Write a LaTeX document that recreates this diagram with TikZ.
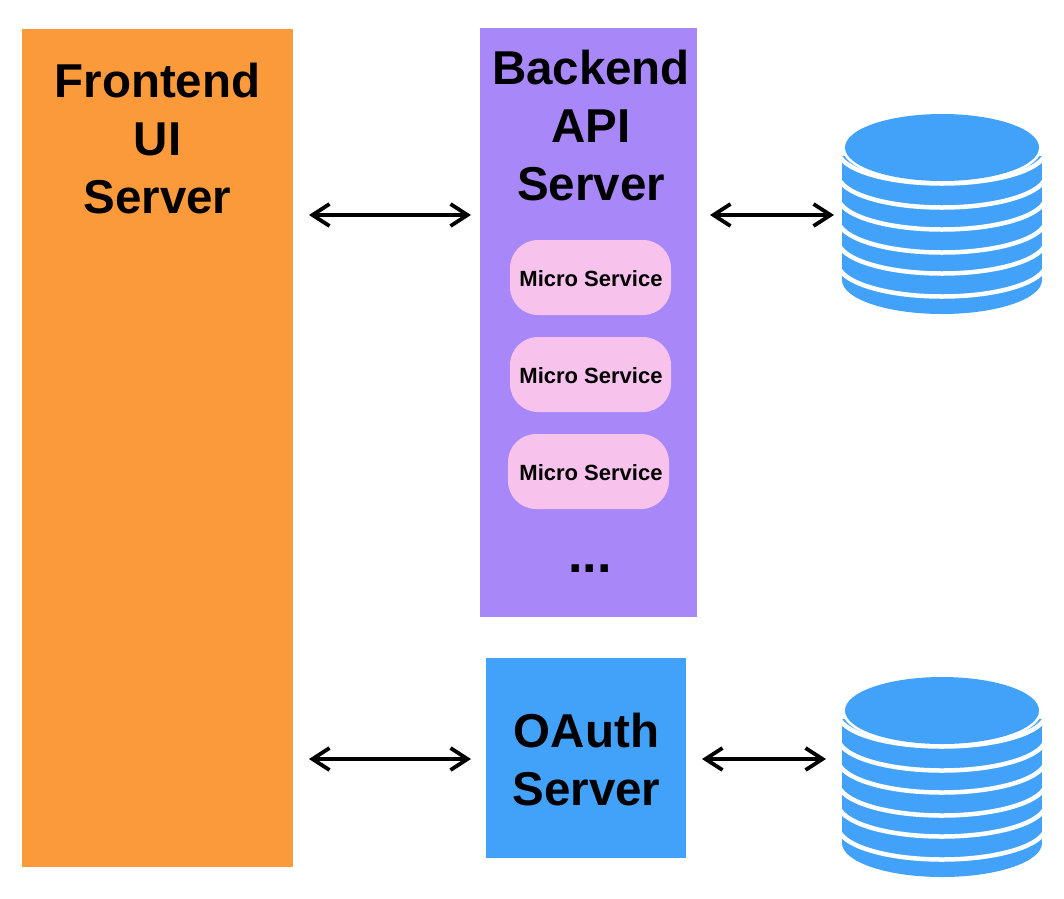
\documentclass[tikz,border=0pt]{standalone}
\usepackage{fontspec}
\setmainfont{Liberation Sans}
\usetikzlibrary{arrows.meta}
\definecolor{orangebox}{HTML}{FB9A3B}
\definecolor{purplebox}{HTML}{A887F9}
\definecolor{bluebox}{HTML}{42A2F9}
\definecolor{pinkbox}{HTML}{F7C2EC}
\tikzset{
  x=1pt,y=-1pt,
  box/.style={inner sep=0pt,outer sep=0pt,anchor=north west},
  bigtext/.style={inner sep=0pt,align=center,font=\fontsize{47.5}{58}\selectfont\bfseries,text=black},
  microbox/.style={box,fill=pinkbox,rounded corners=28pt,minimum width=161pt,minimum height=75pt},
  microtext/.style={inner sep=0pt,font=\fontsize{22}{26}\selectfont\bfseries,text=black},
  dblarrow/.style={line width=3.8pt,{Straight Barb[length=17pt,width=22pt,line width=3.8pt]}-{Straight Barb[length=17pt,width=22pt,line width=3.8pt]}}
}
\newcommand{\dbcyl}[2]{%
  \begin{scope}
    \clip (#1-100,#2+9) rectangle (#1+100,#2+175);
    \fill[bluebox] (#1-100,#2) rectangle (#1+100,#2+132.5);
    \fill[bluebox] (#1-100,#2+132.5) arc[start angle=180,end angle=360,x radius=100pt,y radius=34pt];
    \foreach \yy in {0,24,46,69,90,113}{
      \draw[white,line width=4.5pt] (#1-104,#2+\yy+3) arc[start angle=180,end angle=360,x radius=104pt,y radius=33pt];
    }
  \end{scope}
  \fill[white] (#1,#2) ellipse[x radius=100pt,y radius=36.5pt];
  \fill[bluebox] (#1,#2) ellipse[x radius=97pt,y radius=33.5pt];
}
\begin{document}
\begin{tikzpicture}
\useasboundingbox (0,0) rectangle (1064,898);
\node[box,fill=orangebox,minimum width=271pt,minimum height=838pt] (frontend) at (22,29) {};
\node[box,fill=purplebox,minimum width=217pt,minimum height=589pt] (backend) at (480,28) {};
\node[box,fill=bluebox,minimum width=200pt,minimum height=200pt] (oauth) at (486,658) {};
\node[bigtext] (ftext) at (157.5,138.5) {Frontend\\UI\\Server};
\node[bigtext] (btext) at (591,125.5) {Backend\\API\\Server};
\node[bigtext] (otext) at (586.5,759.5) {OAuth\\Server};
\node[microbox] (m1) at (510,240) {};
\node[microbox] (m2) at (510,337) {};
\node[microbox] (m3) at (508,434) {};
\node[microtext] (mt1) at (591,279) {Micro Service};
\node[microtext] (mt2) at (591,376) {Micro Service};
\node[microtext] (mt3) at (591,473) {Micro Service};
\node[inner sep=0pt,font=\fontsize{52}{58}\selectfont\bfseries,anchor=base] (dots) at (590,572) {...};
% databases
\dbcyl{942}{147.5}
\dbcyl{942}{710.5}
\coordinate (db1) at (842,215);
\coordinate (db2) at (842,759);
% connectors
\coordinate (a1l) at ([xshift=16pt]frontend.east |- db1);
\coordinate (a1r) at ([xshift=-9pt]backend.west |- db1);
\coordinate (a2l) at ([xshift=13pt]backend.east |- db1);
\coordinate (a2r) at ([xshift=-8pt]db1);
\coordinate (a3l) at ([xshift=16pt]frontend.east |- db2);
\coordinate (a3r) at ([xshift=-15pt]oauth.west |- db2);
\coordinate (a4l) at ([xshift=16pt]oauth.east |- db2);
\coordinate (a4r) at ([xshift=-16pt]db2);
\draw[dblarrow] (a1l) -- (a1r);
\draw[dblarrow] (a2l) -- (a2r);
\draw[dblarrow] (a3l) -- (a3r);
\draw[dblarrow] (a4l) -- (a4r);
\end{tikzpicture}
\end{document}
